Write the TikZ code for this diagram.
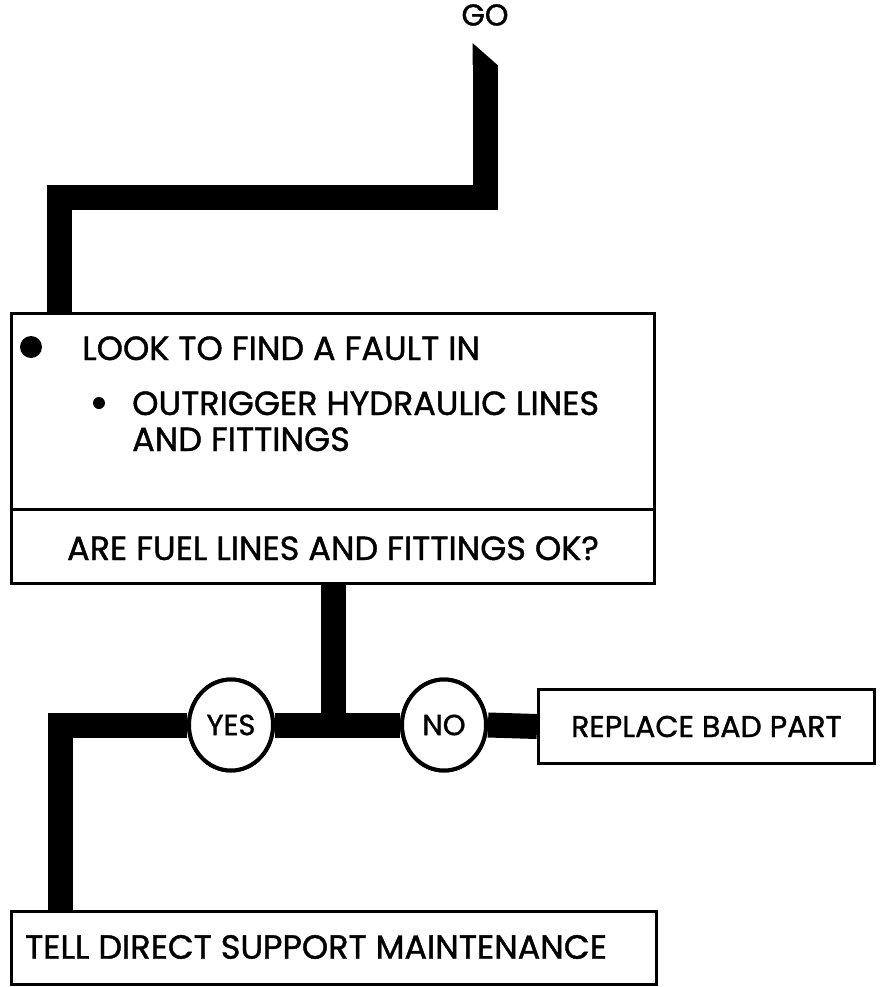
\documentclass[tikz,border=0pt]{standalone}
\usepackage{fontspec}
\setmainfont{Poppins}[BoldFont=Poppins,BoldFeatures={FakeBold=1.2}]
\usetikzlibrary{shapes.geometric}
\begin{document}
\begin{tikzpicture}[x=1pt,y=-1pt,
  flow/.style={line width=25pt,line join=miter,line cap=butt},
  box/.style={draw,line width=3pt,rectangle,inner sep=0pt},
  dec/.style={draw,line width=4pt,ellipse,fill=white,minimum width=84pt,minimum height=91pt,inner sep=0pt,font=\fontsize{29}{34}\selectfont\bfseries},
  txt/.style={font=\fontsize{33.5}{40}\selectfont\bfseries,inner sep=0pt}]
\useasboundingbox (0,0) rectangle (880,987);
% nodes
\node[font=\fontsize{30}{34}\selectfont\bfseries,inner sep=0pt] (go) at (485,15) {GO};
\node[box,minimum width=643pt,minimum height=196pt,anchor=north west] (look) at (10,312) {};
\node[box,minimum width=643pt,minimum height=74pt,anchor=north west] (ask) at (10,508) {};
\node[txt,anchor=base] (asktext) at (333,560) {ARE FUEL LINES AND FITTINGS OK?};
\fill (31,347) circle (11pt);
\node[txt,anchor=base west] (l1) at (82,360) {LOOK TO FIND A FAULT IN};
\fill (99,403) circle (6pt);
\node[txt,anchor=base west] (l2) at (132,415) {OUTRIGGER HYDRAULIC LINES};
\node[txt,anchor=base west] (l3) at (132,451) {AND FITTINGS};
\node[dec] (yes) at (231,725) {YES};
\node[dec] (no) at (444,725) {NO};
\node[box,minimum width=336pt,minimum height=74pt,anchor=north west,font=\fontsize{30}{34}\selectfont\bfseries] (rep) at (537,688) {REPLACE BAD PART};
\node[box,minimum width=645pt,minimum height=73pt,anchor=north west] (tell) at (10,910) {};
\node[txt,anchor=west] (telltext) at (25,947) {TELL DIRECT SUPPORT MAINTENANCE};
% connectors
\coordinate (start) at (485,65);
\coordinate (jn) at (333.5,725);
\fill (472.5,43) -- (497.5,65) -- (472.5,65) -- cycle;
\draw[flow] (start) -- (485,197.5) -- (59,197.5) -- (59,312);
\draw[flow] (333.5,582) -- (jn);
\draw[flow] (yes.west) -- (60.5,725) -- (60.5,910);
\draw[flow] (yes.east) -- (no.west);
\draw[flow] (no.east) -- (rep.west);
\node[dec] at (yes) {YES};
\node[dec] at (no) {NO};
\end{tikzpicture}
\end{document}
